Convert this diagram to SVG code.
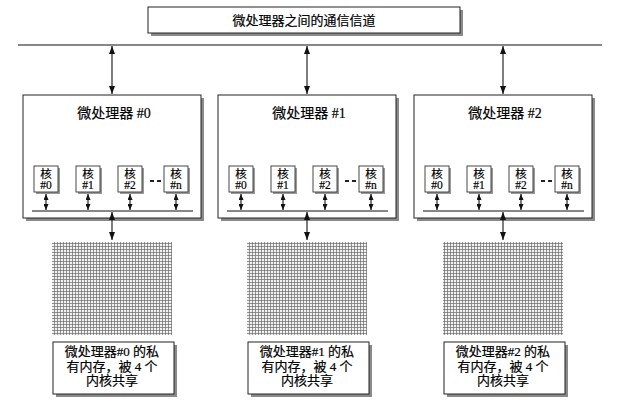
<svg xmlns="http://www.w3.org/2000/svg" width="628" height="404" viewBox="0 0 628 404">
<style>
.box{fill:#fff;stroke:#222;stroke-width:1}
.sh{fill:#8a8a8a}
.core{fill:#fff;stroke:#333;stroke-width:0.9}
.csh{fill:#999}
.t{font-family:"Liberation Serif","Noto Sans CJK SC",serif;fill:#000;stroke:#000;stroke-width:0.2;text-anchor:middle}
.ttl{font-size:13px}
.ptl{font-size:14px}
.ct{font-size:11.5px}
.lt{font-size:13px}
.ln{stroke:#111;stroke-width:1.2;fill:none}
.big{stroke:#111;stroke-width:1.1;fill:none;marker-start:url(#ah);marker-end:url(#ah)}
.sm{stroke:#111;stroke-width:1.1;fill:none;marker-start:url(#sh);marker-end:url(#sh)}
.dash{stroke:#222;stroke-width:2;stroke-dasharray:4 3}
</style>
<defs>
<marker id="ah" viewBox="0 0 8 6" refX="8" refY="3" markerWidth="8" markerHeight="6" markerUnits="userSpaceOnUse" orient="auto-start-reverse"><path d="M0,0L8,3L0,6z" fill="#111"/></marker>
<marker id="sh" viewBox="0 0 6 5" refX="6" refY="2.5" markerWidth="6" markerHeight="5" markerUnits="userSpaceOnUse" orient="auto-start-reverse"><path d="M0,0L6,2.5L0,5z" fill="#111"/></marker>
<pattern id="grid" width="3" height="3" patternUnits="userSpaceOnUse"><rect width="3" height="3" fill="#f2f2f2"/><path d="M0,0.4H3M0.4,0V3" stroke="#666" stroke-width="0.75"/></pattern>
</defs>
<rect width="628" height="404" fill="#fff"/>

<g id="title">
<rect class="sh" x="151" y="10" width="312" height="26"/>
<rect class="box" x="148" y="7" width="312" height="26"/>
<text class="t ttl" x="304" y="25">微处理器之间的通信信道</text>
</g>

<g id="proc0">
<rect class="sh" x="26" y="98" width="178" height="123"/>
<rect class="box" x="23" y="95" width="178" height="123"/>
<text class="t ptl" x="114" y="118">微处理器 #0</text>
<g id="proc0-core0"><rect class="csh" x="36" y="168" width="24" height="26"/><rect class="core" x="34" y="166" width="24" height="26"/><text class="t ct" x="46" y="178">核</text><text class="t ct" x="46" y="189">#0</text></g>
<g id="proc0-core1"><rect class="csh" x="78" y="168" width="24" height="26"/><rect class="core" x="76" y="166" width="24" height="26"/><text class="t ct" x="88" y="178">核</text><text class="t ct" x="88" y="189">#1</text></g>
<g id="proc0-core2"><rect class="csh" x="120" y="168" width="24" height="26"/><rect class="core" x="118" y="166" width="24" height="26"/><text class="t ct" x="130" y="178">核</text><text class="t ct" x="130" y="189">#2</text></g>
<g id="proc0-coren"><rect class="csh" x="166" y="168" width="24" height="26"/><rect class="core" x="164" y="166" width="24" height="26"/><text class="t ct" x="176" y="178">核</text><text class="t ct" x="176" y="189">#n</text></g>
<line class="dash" x1="150" y1="181" x2="161" y2="181"/>
</g>

<g id="proc1">
<rect class="sh" x="221" y="98" width="178" height="123"/>
<rect class="box" x="218" y="95" width="178" height="123"/>
<text class="t ptl" x="309" y="118">微处理器 #1</text>
<g id="proc1-core0"><rect class="csh" x="231" y="168" width="24" height="26"/><rect class="core" x="229" y="166" width="24" height="26"/><text class="t ct" x="241" y="178">核</text><text class="t ct" x="241" y="189">#0</text></g>
<g id="proc1-core1"><rect class="csh" x="273" y="168" width="24" height="26"/><rect class="core" x="271" y="166" width="24" height="26"/><text class="t ct" x="283" y="178">核</text><text class="t ct" x="283" y="189">#1</text></g>
<g id="proc1-core2"><rect class="csh" x="315" y="168" width="24" height="26"/><rect class="core" x="313" y="166" width="24" height="26"/><text class="t ct" x="325" y="178">核</text><text class="t ct" x="325" y="189">#2</text></g>
<g id="proc1-coren"><rect class="csh" x="361" y="168" width="24" height="26"/><rect class="core" x="359" y="166" width="24" height="26"/><text class="t ct" x="371" y="178">核</text><text class="t ct" x="371" y="189">#n</text></g>
<line class="dash" x1="345" y1="181" x2="356" y2="181"/>
</g>

<g id="proc2">
<rect class="sh" x="417" y="98" width="178" height="123"/>
<rect class="box" x="414" y="95" width="178" height="123"/>
<text class="t ptl" x="505" y="118">微处理器 #2</text>
<g id="proc2-core0"><rect class="csh" x="427" y="168" width="24" height="26"/><rect class="core" x="425" y="166" width="24" height="26"/><text class="t ct" x="437" y="178">核</text><text class="t ct" x="437" y="189">#0</text></g>
<g id="proc2-core1"><rect class="csh" x="469" y="168" width="24" height="26"/><rect class="core" x="467" y="166" width="24" height="26"/><text class="t ct" x="479" y="178">核</text><text class="t ct" x="479" y="189">#1</text></g>
<g id="proc2-core2"><rect class="csh" x="511" y="168" width="24" height="26"/><rect class="core" x="509" y="166" width="24" height="26"/><text class="t ct" x="521" y="178">核</text><text class="t ct" x="521" y="189">#2</text></g>
<g id="proc2-coren"><rect class="csh" x="557" y="168" width="24" height="26"/><rect class="core" x="555" y="166" width="24" height="26"/><text class="t ct" x="567" y="178">核</text><text class="t ct" x="567" y="189">#n</text></g>
<line class="dash" x1="541" y1="181" x2="552" y2="181"/>
</g>

<g id="mem0"><rect x="52" y="242" width="120" height="93" fill="url(#grid)"/></g>
<g id="mem1"><rect x="247" y="242" width="120" height="93" fill="url(#grid)"/></g>
<g id="mem2"><rect x="443" y="242" width="120" height="93" fill="url(#grid)"/></g>

<g id="label0">
<rect class="sh" x="56" y="345" width="121" height="52"/>
<rect class="box" x="53" y="342" width="121" height="52"/>
<text class="t lt" x="112" y="356">微处理器#0 的私</text>
<text class="t lt" x="112" y="371">有内存，被 4 个</text>
<text class="t lt" x="112" y="385">内核共享</text>
</g>
<g id="label1">
<rect class="sh" x="251" y="345" width="121" height="52"/>
<rect class="box" x="248" y="342" width="121" height="52"/>
<text class="t lt" x="307" y="356">微处理器#1 的私</text>
<text class="t lt" x="307" y="371">有内存，被 4 个</text>
<text class="t lt" x="307" y="385">内核共享</text>
</g>
<g id="label2">
<rect class="sh" x="447" y="345" width="121" height="52"/>
<rect class="box" x="444" y="342" width="121" height="52"/>
<text class="t lt" x="503" y="356">微处理器#2 的私</text>
<text class="t lt" x="503" y="371">有内存，被 4 个</text>
<text class="t lt" x="503" y="385">内核共享</text>
</g>

<g id="connectors">
<line class="ln" x1="18" y1="45" x2="602" y2="45"/>
<line class="big" x1="112" y1="46" x2="112" y2="94"/>
<line class="big" x1="307" y1="46" x2="307" y2="94"/>
<line class="big" x1="503" y1="46" x2="503" y2="94"/>
<line class="ln" x1="32" y1="211" x2="193" y2="211"/>
<line class="ln" x1="227" y1="211" x2="388" y2="211"/>
<line class="ln" x1="423" y1="211" x2="584" y2="211"/>
<line class="sm" x1="46" y1="194" x2="46" y2="210"/>
<line class="sm" x1="88" y1="194" x2="88" y2="210"/>
<line class="sm" x1="130" y1="194" x2="130" y2="210"/>
<line class="sm" x1="176" y1="194" x2="176" y2="210"/>
<line class="sm" x1="241" y1="194" x2="241" y2="210"/>
<line class="sm" x1="283" y1="194" x2="283" y2="210"/>
<line class="sm" x1="325" y1="194" x2="325" y2="210"/>
<line class="sm" x1="371" y1="194" x2="371" y2="210"/>
<line class="sm" x1="437" y1="194" x2="437" y2="210"/>
<line class="sm" x1="479" y1="194" x2="479" y2="210"/>
<line class="sm" x1="521" y1="194" x2="521" y2="210"/>
<line class="sm" x1="567" y1="194" x2="567" y2="210"/>
<line class="big" x1="112" y1="212" x2="112" y2="240"/>
<line class="big" x1="307" y1="212" x2="307" y2="240"/>
<line class="big" x1="503" y1="212" x2="503" y2="240"/>
</g>
</svg>
